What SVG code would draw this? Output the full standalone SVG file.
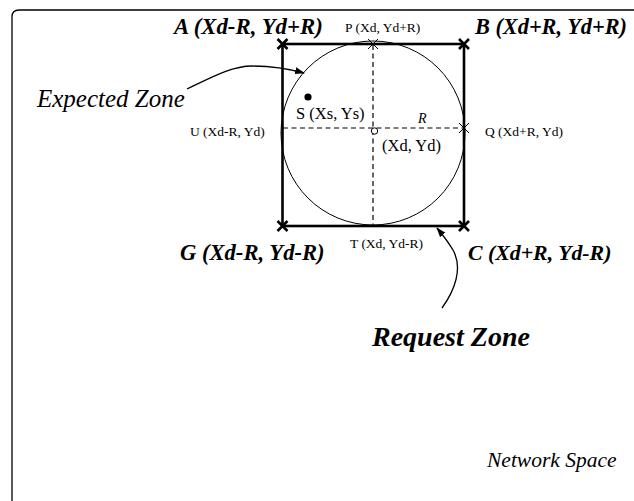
<svg xmlns="http://www.w3.org/2000/svg" width="634" height="501" viewBox="0 0 634 501">
<style>
text{font-family:'Liberation Serif','Times New Roman',serif;fill:#000}
.bi{font-style:italic;font-weight:bold}
.it{font-style:italic}
.dash{stroke:#000;stroke-width:1.2;stroke-dasharray:5 3.5;fill:none}
.bx{stroke:#000;stroke-width:2.6;fill:none}
.tx{stroke:#000;stroke-width:1;fill:none}
.conn{stroke:#000;stroke-width:1.3;fill:none}
</style>
<defs>
<marker id="ah" markerWidth="10" markerHeight="8" refX="9" refY="4" orient="auto" markerUnits="userSpaceOnUse">
<path d="M0,0.5 L10,4 L0,7.5 Z" fill="#000"/>
</marker>
</defs>
<rect width="634" height="501" fill="#fff"/>
<path d="M12,501 V17 Q12,10 19,10 H634" fill="none" stroke="#000" stroke-width="1.3"/>

<g id="request-zone">
<rect x="282.5" y="44" width="181.5" height="182" fill="none" stroke="#000" stroke-width="2.6"/>
</g>
<g id="expected-zone">
<circle cx="373" cy="133" r="92" fill="none" stroke="#000" stroke-width="1"/>
</g>
<g id="axes">
<line class="dash" x1="283" y1="128" x2="463" y2="128"/>
<line class="dash" x1="373" y1="45" x2="373" y2="225"/>
<circle cx="374.5" cy="131" r="3.2" fill="#fff" stroke="#000" stroke-width="1"/>
</g>
<g id="corners">
<path class="bx" d="M277.5,39 L287.5,49 M287.5,39 L277.5,49"/>
<path class="bx" d="M459,39 L469,49 M469,39 L459,49"/>
<path class="bx" d="M459,221 L469,231 M469,221 L459,231"/>
<path class="bx" d="M277.5,221 L287.5,231 M287.5,221 L277.5,231"/>
<path class="tx" d="M368,39 L378,49 M378,39 L368,49"/>
<path class="tx" d="M459,123 L469,133 M469,123 L459,133"/>
</g>
<g id="point-s">
<circle cx="308" cy="97" r="3.6" fill="#000"/>
<text x="296" y="119" font-size="16.5">S (Xs, Ys)</text>
</g>

<g id="connectors">
<path class="conn" d="M187,89 C212,77 232,66 252,66 C272,66 289,69 304,73" marker-end="url(#ah)"/>
<path class="conn" d="M442,308 C455,290 463,268 453,250 C447,240 442,234 437,228" marker-end="url(#ah)"/>
</g>

<g id="labels">
<text class="bi" x="174" y="34" font-size="22.8">A (Xd-R, Yd+R)</text>
<text class="bi" x="475" y="34" font-size="22.3">B (Xd+R, Yd+R)</text>
<text class="bi" x="180" y="260" font-size="22.6">G (Xd-R, Yd-R)</text>
<text class="bi" x="468" y="260" font-size="21.8">C (Xd+R, Yd-R)</text>
<text x="345" y="32" font-size="13.5">P (Xd, Yd+R)</text>
<text x="190" y="136" font-size="13.5">U (Xd-R, Yd)</text>
<text x="485" y="136" font-size="13.5">Q (Xd+R, Yd)</text>
<text x="350" y="248" font-size="13.5">T (Xd, Yd-R)</text>
<text class="it" x="418" y="123" font-size="14">R</text>
<text x="382" y="151" font-size="16.5">(Xd, Yd)</text>
<text class="it" x="37" y="107" font-size="25">Expected Zone</text>
<text class="bi" x="372" y="346" font-size="28">Request Zone</text>
<text class="it" x="487" y="467" font-size="21.5">Network Space</text>
</g>
</svg>
